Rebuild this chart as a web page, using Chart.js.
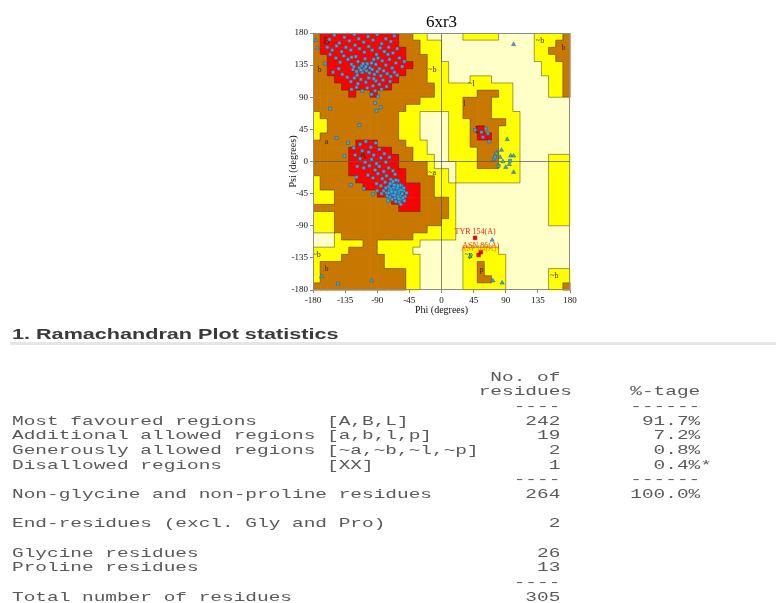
<!DOCTYPE html>
<html>
<head>
<meta charset="utf-8">
<title>6xr3 Ramachandran plot</title>
<script src="https://cdn.jsdelivr.net/npm/chart.js@4.4.1/dist/chart.umd.min.js"></script>
<style>
  html, body { margin: 0; padding: 0; background: #fff; }
  body { width: 776px; height: 603px; position: relative; overflow: hidden; }
  #plotBox { position: absolute; left: 270px; top: 0; width: 320px; height: 320px; }
  #rule { position: absolute; left: 10px; right: 0; top: 342px; height: 3px; background: #e6e6e6; }
  #stats { position: absolute; left: 12px; top: 0; transform: scaleX(1.44); transform-origin: 0 0; }
  #stats h3 { position: absolute; left: 0; top: 325px; margin: 0; font: bold 15px/17px "Liberation Sans", Arial, sans-serif; color: #3a3a3a; white-space: nowrap; }
  #stats pre { position: absolute; left: 0; top: 370.7px; margin: 0; font: 13.5px/14.65px "Liberation Mono", "Courier New", monospace; color: #5a5a5a; }
</style>
</head>
<body>
<div id="plotBox"><canvas id="rama" width="320" height="320"></canvas></div>
<div id="rule"></div>
<div id="stats"><h3>1. Ramachandran Plot statistics</h3><pre id="table"></pre></div>
<script>
const plotTitle = '6xr3';
const phiTicks = [-180, -135, -90, -45, 0, 45, 90, 135, 180];
const psiTicks = [-180, -135, -90, -45, 0, 45, 90, 135, 180];

// 10 degree cells: rows go psi 180 -> -180, columns phi -180 -> 180
// R most favoured, B additional allowed, Y generously allowed, - disallowed
const regionRows = [
  'BRRRRRRRRRRRBBYY-----YYYYY-----YYYYB',
  'BRRRRRRRRRRRBBBYYY-------------YYYBB',
  'BRRRRRRRRRRRRBBYYY-------------YYBBB',
  'BBRRRRRRRRRRRBBBYY-------------YYYBB',
  'BBRRRRRRRRRRRRBBYYY-------------YYYB',
  'BBRRRRRRRRRRRBBBYYY-------------YYYB',
  'BBBRRRRRRRRRBBBBYYY---YYY--------YYB',
  'BBBBRRRRRRRBBBBBBYYYYYYYYYYY-----YYB',
  'BBBBBRBBRBBBBBBBBYYYYYYBBBYY-----YYB',
  'BBBBBBBBBBBBBBBYYYYYYBBBBYYY--------',
  'BBBBBBBBBBBBBYYYYYYYYBBBBYYY--------',
  'YBBBBBBBBBBBYYY----YYBBBBYYYY-------',
  'YYBBBBBBBBBBYYY----YYYBBBBBYY-------',
  'YYBBBBBBBBBBYYY----YYYBRBBYYY-------',
  'YBBBBBBBBBBBYYY----YYYBRRBYYY-------',
  'BBBBBBRRRBBBBYYY---YYYBBBBYYY-------',
  'BBBBBRRRRRRBBBYY---YYYYBBBYYY-------',
  'BBBBBRRRRRRRBBYYY--YYYYBBBYYY----YYY',
  'BBBBBRRRRRRRBBBBY---YYYBBBYYY----YYY',
  'BBBBBRRRRRRRRBBBYYY-YYYYYYYYY----YYY',
  'YBBBBBRRRRRRRBBBBYY-YYYYYYYYY----YYY',
  'YBBBBBBRRRRRRRRBBYYY-------------YYY',
  'YYYBBBBBBRRRRRRBBYYY-------------YYY',
  'YYYBBBBBBBBRRRRBBBBY-------------YYY',
  'BBBBBBBBBBBBRRRBBBBY-------------YYY',
  'YYYBBBBBBBBBBBBBBBBY-------------YYY',
  'YYYBBBBBBBBBBBBBBBYY-------------YYY',
  'YYYBBBBBBBBBBBBBYYYY----------------',
  '---YBBBBBBBBBBYYYYYY----------------',
  '---YYYYBBYYYYYY---------------------',
  'YYYYYBBBBYYYYY-------YYYYY----------',
  'YYYYBBBBBBYYYYY------YYYYYY---------',
  'YBBBBBBBBBYYYYY------YYBYYY---------',
  'YBBBBBBBBBBBBYY------YYBYYY------YYY',
  'YBBBBBBBBBBBBYY------YYBBYY------YYY',
  'BBBBBBBBBBBBBYY------YYYYYY------YYB'
];
const regionColours = { R: '#ff0000', B: '#c87800', Y: '#ffff00', '-': '#ffffc8' };

const regionLabels = [
  ['B', -161, 168], ['b', -171, 128], ['~b', -13, 129], ['A', -110, 9], ['a', -161, 27],
  ['~a', -13, -16], ['L', 51, 44], ['l', 32, 80], ['~l', 42, 109], ['~b', 138, 169],
  ['b', 171, 159], ['~b', -175, -131], ['b', -161, -150], ['~p', 38, -131], ['p', 56, -152],
  ['~b', 158, -160]
];

// residues in the beta / alpha areas and elsewhere (phi, psi)
const betaResidues = [
  [-157,171],[-150,177],[-143,166],[-136,174],[-129,169],[-122,178],[-116,172],[-109,167],[-103,175],[-96,170],
  [-90,178],[-84,165],[-78,172],[-71,168],[-66,176],[-160,160],[-153,156],[-147,162],[-140,154],[-134,160],
  [-127,156],[-121,163],[-115,158],[-108,153],[-102,161],[-97,156],[-91,150],[-86,159],[-80,154],[-74,160],
  [-68,152],[-62,158],[-148,145],[-142,139],[-137,148],[-131,143],[-126,136],[-120,147],[-117,140],[-112,134],
  [-107,144],[-104,137],[-100,131],[-95,143],[-92,136],[-87,130],[-83,141],[-78,135],[-73,143],[-69,131],
  [-64,138],[-59,145],[-55,133],[-52,140],[-124,129],[-119,126],[-115,131],[-111,125],[-108,130],[-105,127],
  [-101,124],[-97,129],[-94,122],[-90,126],[-85,120],[-81,127],[-76,123],[-71,119],[-66,125],[-62,121],
  [-132,118],[-127,112],[-122,117],[-117,109],[-113,115],[-106,111],[-102,117],[-96,106],[-92,113],[-87,108],
  [-82,114],[-77,105],[-72,112],[-126,101],[-119,104],[-111,99],[-104,103],[-98,94],[-93,99],[-89,91],
  [-84,101],[-156,150],[-163,137],[-144,130],[-139,122],[-152,125],[-110,137],[-113,128],[-106,133],[-98,138],
  [-118,121],[-123,133],[-126,146],[-95,116],[-89,145],[-75,150]
];
const alphaResidues = [
  [-114,24],[-106,28],[-99,20],[-92,26],[-111,15],[-102,13],[-95,9],[-87,17],[-80,11],[-121,9],
  [-114,4],[-107,-1],[-98,3],[-91,-3],[-85,5],[-78,-1],[-73,6],[-118,-7],[-109,-9],[-101,-6],
  [-93,-12],[-87,-7],[-81,-14],[-74,-9],[-68,-13],[-103,-19],[-96,-23],[-89,-17],[-83,-24],[-77,-20],
  [-71,-25],[-65,-18],[-61,-27],[-91,-31],[-85,-34],[-79,-29],[-74,-35],[-69,-31],[-66,-38],[-63,-33],
  [-59,-38],[-56,-34],[-53,-41],[-81,-41],[-77,-44],[-73,-40],[-70,-45],[-67,-41],[-64,-46],[-62,-40],
  [-60,-44],[-58,-48],[-55,-45],[-51,-49],[-76,-48],[-72,-50],[-68,-47],[-65,-51],[-61,-49],[-57,-53],
  [-54,-51],[-71,-38],[-67,-36],[-63,-42],[-59,-41],[-69,-53],[-64,-56],[-59,-57],[-56,-40],[-74,-44],
  [-66,-47],[-62,-37],[-58,-33],[-68,-28],[-64,-26],[-72,-31],[-78,-37],[-84,-45],[-90,-41],[-96,-46],
  [-60,-52],[-52,-55],[-49,-44],[-57,-60],[-65,-43],[-61,-34],[-70,-42],[-75,-55],[-53,-37],[-66,-33]
];
const otherResidues = [
  [-156,74],[-93,82],[-85,76],[-91,71],[-115,51],[-147,33],[-131,26],[-123,19],[-136,8],[-127,-33],
  [-109,-38],[-119,-22],[-145,-171],[47,44],[62,46],[65,39],[58,34],[67,28],[56,41],[77,11],
  [75,6],[96,1],[80,-6]
];
const glycineResidues = [
  [-176,170],[-174,159],[101,164],[77,12],[82,6],[86,0],[95,-4],[97,8],[101,-15],[84,16],
  [101,8],[90,-8],[73,3],[92,31],[-168,-161],[-98,-167],[71,-110],[72,-167],[85,-170],[40,-133]
];
const flaggedNames = ['TYR 154(A)', 'ASN 86(A)', 'ASP 84(A)'];
const flaggedPhi = [47, 55, 52];
const flaggedPsi = [-107, -127, -131];
const flaggedColours = ['#ff1a00', '#ff3300', '#ff8000'];

// statistics table
const statLabels = ['Most favoured regions', 'Additional allowed regions', 'Generously allowed regions', 'Disallowed regions'];
const statCodes = ['[A,B,L]', '[a,b,l,p]', '[~a,~b,~l,~p]', '[XX]'];
const statCounts = [242, 19, 2, 1];
const statPercents = ['91.7%', '7.2%', '0.8%', '0.4%*'];
const residueLabels = ['Non-glycine and non-proline residues', 'End-residues (excl. Gly and Pro)', 'Glycine residues', 'Proline residues', 'Total number of residues'];
const residueCounts = [264, 2, 26, 13, 305];
const residuePercents = ['100.0%', '', '', '', ''];

regionRows.forEach((r, i) => { if (r.length !== 36) throw new Error('row ' + i + ' has ' + r.length); });

function tableLine(label, code, count, pct) {
  let s = label;
  if (code) s = s.padEnd(27) + code;
  const n = String(count);
  s = s.padEnd(47 - n.length) + n;
  if (pct) s = s.padEnd(59 - pct.replace('*', '').length) + pct;
  return s;
}
const lines = [];
lines.push(' '.repeat(41) + 'No. of');
lines.push(' '.repeat(40) + 'residues' + ' '.repeat(5) + '%-tage');
lines.push(' '.repeat(43) + '----' + ' '.repeat(6) + '------');
statLabels.forEach((l, i) => lines.push(tableLine(l, statCodes[i], statCounts[i], statPercents[i])));
lines.push(' '.repeat(43) + '----' + ' '.repeat(6) + '------');
lines.push(tableLine(residueLabels[0], '', residueCounts[0], residuePercents[0]));
lines.push('');
lines.push(tableLine(residueLabels[1], '', residueCounts[1]));
lines.push('');
lines.push(tableLine(residueLabels[2], '', residueCounts[2]));
lines.push(tableLine(residueLabels[3], '', residueCounts[3]));
lines.push(' '.repeat(43) + '----');
lines.push(tableLine(residueLabels[4], '', residueCounts[4]));
document.getElementById('table').textContent = lines.join('\n');

const toXY = arr => arr.map(p => ({ x: p[0], y: p[1] }));

const regionPlugin = {
  id: 'regions',
  beforeDraw(chart) {
    const { ctx, scales: { x, y } } = chart;
    ctx.save();
    const px = v => x.getPixelForValue(v);
    const py = v => y.getPixelForValue(v);
    regionRows.forEach((row, r) => {
      for (let c = 0; c < 36; c++) {
        const x0 = px(-180 + c * 10), x1 = px(-170 + c * 10);
        const y0 = py(180 - r * 10), y1 = py(170 - r * 10);
        ctx.fillStyle = regionColours[row[c]];
        ctx.fillRect(x0, y0, x1 - x0 + 0.6, y1 - y0 + 0.6);
      }
    });
    // region outlines
    ctx.strokeStyle = 'rgba(40,30,0,0.55)';
    ctx.lineWidth = 0.8;
    ctx.beginPath();
    regionRows.forEach((row, r) => {
      for (let c = 0; c < 36; c++) {
        if (c < 35 && row[c] !== row[c + 1]) {
          const xx = px(-170 + c * 10);
          ctx.moveTo(xx, py(180 - r * 10));
          ctx.lineTo(xx, py(170 - r * 10));
        }
        if (r < 35 && row[c] !== regionRows[r + 1][c]) {
          const yy = py(170 - r * 10);
          ctx.moveTo(px(-180 + c * 10), yy);
          ctx.lineTo(px(-170 + c * 10), yy);
        }
      }
    });
    ctx.stroke();
    ctx.restore();
  },
  beforeDatasetsDraw(chart) {
    const { ctx, scales: { x, y } } = chart;
    ctx.save();
    ctx.fillStyle = '#3a2a10';
    ctx.textAlign = 'center';
    ctx.textBaseline = 'middle';
    regionLabels.forEach(([t, phi, psi]) => {
      const big = t === t.toUpperCase() && t[0] !== '~';
      ctx.font = (big ? '10px' : '8px') + ' "Liberation Serif", serif';
      ctx.fillText(t, x.getPixelForValue(phi), y.getPixelForValue(psi));
    });
    ctx.restore();
  },
  afterDatasetsDraw(chart) {
    const { ctx, chartArea: a, scales: { x, y } } = chart;
    ctx.save();
    ctx.font = '8px "Liberation Serif", serif';
    ctx.textAlign = 'center';
    ctx.textBaseline = 'bottom';
    flaggedNames.forEach((n, i) => {
      ctx.fillStyle = flaggedColours[i];
      ctx.fillText(n, x.getPixelForValue(flaggedPhi[i]), y.getPixelForValue(flaggedPsi[i]) - 2);
    });
    ctx.strokeStyle = '#8a8a8a';
    ctx.lineWidth = 1;
    ctx.strokeRect(a.left + 0.5, a.top + 0.5, a.right - a.left - 1, a.bottom - a.top - 1);
    ctx.restore();
  }
};

const pointFill = '#41a8de';
const pointEdge = '#1f5f88';
const serif = '"Liberation Serif", "Times New Roman", serif';

const axisCommon = (ticks, label, titlePad) => ({
  type: 'linear',
  min: -180,
  max: 180,
  afterBuildTicks: s => { s.ticks = ticks.map(v => ({ value: v })); },
  ticks: { font: { family: serif, size: 9 }, color: '#111', padding: 2, maxRotation: 0, autoSkip: false },
  grid: {
    color: c => (c.tick && c.tick.value === 0 ? 'rgba(90,90,90,0.75)' : 'rgba(0,0,0,0)'),
    tickColor: '#8a8a8a',
    tickLength: 3,
    lineWidth: 1
  },
  border: { display: false },
  title: { display: true, text: label, font: { family: serif, size: 10 }, color: '#111', padding: titlePad }
});

const xAxis = axisCommon(phiTicks, 'Phi (degrees)', { top: 0, bottom: 4 });
xAxis.afterFit = s => { s.height = 30; };
const yAxis = axisCommon(psiTicks, 'Psi (degrees)', { top: 17.5, bottom: 0 });
yAxis.afterFit = s => { s.width = 43; };

new Chart(document.getElementById('rama'), {
  type: 'scatter',
  data: {
    datasets: [
      { data: toXY(betaResidues), pointStyle: 'rect', radius: 2.2, backgroundColor: pointFill, borderColor: pointEdge, borderWidth: 0.5 },
      { data: toXY(alphaResidues), pointStyle: 'rect', radius: 2.2, backgroundColor: pointFill, borderColor: pointEdge, borderWidth: 0.5 },
      { data: toXY(otherResidues), pointStyle: 'rect', radius: 2.2, backgroundColor: pointFill, borderColor: pointEdge, borderWidth: 0.5 },
      { data: toXY(glycineResidues), pointStyle: 'triangle', radius: 2.4, backgroundColor: pointFill, borderColor: pointEdge, borderWidth: 0.5 },
      { data: flaggedPhi.map((v, i) => ({ x: v, y: flaggedPsi[i] })), pointStyle: 'rect', radius: 2.6, backgroundColor: '#ff0000', borderColor: '#990000', borderWidth: 0.5 }
    ]
  },
  options: {
    responsive: false,
    animation: false,
    devicePixelRatio: 1,
    layout: { padding: { left: 0, right: 20, top: 0, bottom: 0 } },
    plugins: {
      legend: { display: false },
      tooltip: { enabled: false },
      title: { display: true, text: plotTitle, fullSize: false, color: '#000', font: { family: serif, size: 17, weight: 'normal' }, padding: { top: 12, bottom: 0.6 } }
    },
    scales: { x: xAxis, y: yAxis }
  },
  plugins: [regionPlugin]
});
</script>
</body>
</html>
